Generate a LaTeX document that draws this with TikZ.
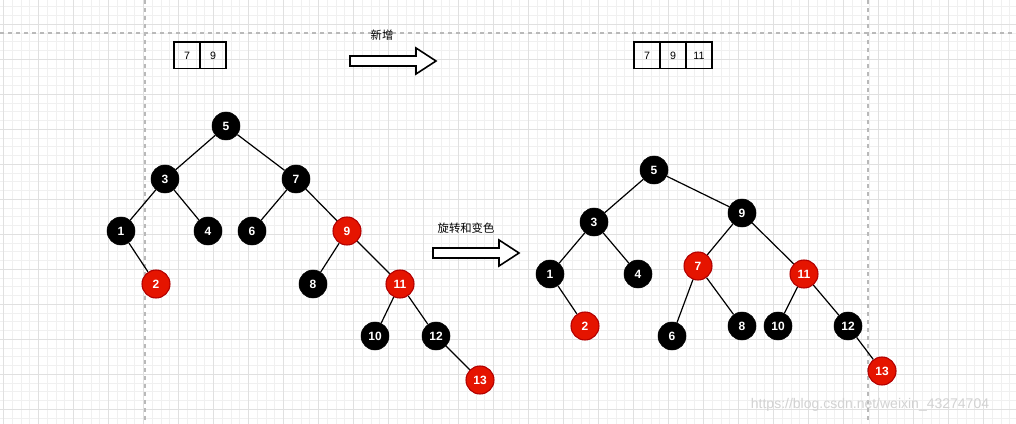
\documentclass[tikz,border=0pt]{standalone}
\usepackage{fontspec}
\setmainfont{Liberation Sans}
\newfontfamily\cjk{Noto Sans CJK SC}
\definecolor{rnode}{HTML}{E51400}
\definecolor{rbord}{HTML}{B20000}
\definecolor{gminor}{HTML}{F0F0F0}
\definecolor{gmajor}{HTML}{E0E0E0}
\begin{document}
\begin{tikzpicture}[x=0.75pt,y=-0.75pt,
  bn/.style={circle,fill=black,draw=black,minimum size=21pt,inner sep=0pt,text=white,font=\bfseries\fontsize{9}{10}\selectfont},
  rn/.style={circle,fill=rnode,draw=rbord,line width=0.8pt,minimum size=21pt,inner sep=0pt,text=white,font=\bfseries\fontsize{9}{10}\selectfont},
  edge/.style={line width=0.9pt},
  cell/.style={draw=black,line width=1pt,minimum width=19.5pt,minimum height=20pt,inner sep=0pt,font=\fontsize{8}{9}\selectfont},
  bigarrow/.style={draw=black,line width=1.2pt,fill=white,line join=miter},
  lbl/.style={font=\cjk\fontsize{8.5}{10}\selectfont}]
\useasboundingbox (0,0) rectangle (1016,424);
\fill[white] (0,0) rectangle (1016,424);
\foreach \x in {0,...,116} \draw[gminor,line width=0.4pt] ({3.3+\x*8.75},0) -- ({3.3+\x*8.75},424);
\foreach \y in {0,...,49} \draw[gminor,line width=0.4pt] (0,{-2+\y*8.75}) -- (1016,{-2+\y*8.75});
\foreach \x in {0,...,29} \draw[gmajor,line width=0.6pt] ({3.3+\x*35},0) -- ({3.3+\x*35},424);
\foreach \y in {0,...,12} \draw[gmajor,line width=0.6pt] (0,{24.3+\y*35-35}) -- (1016,{24.3+\y*35-35});
\draw[gray!55,dashed,line width=0.8pt] (145,0) -- (145,424);
\draw[gray!55,dashed,line width=0.8pt] (868,0) -- (868,424);
\draw[gray!55,dashed,line width=0.8pt] (0,33) -- (1016,33);

% boxes
\node[cell] (la) at (187,55.5) {7};
\node[cell] (lb) at (213,55.5) {9};
\node[cell] (ra) at (647,55.5) {7};
\node[cell] (rb) at (673,55.5) {9};
\node[cell] (rc) at (699,55.5) {11};

% arrows
\draw[bigarrow] (350,56) -- (416,56) -- (416,48) -- (436,61) -- (416,74) -- (416,66) -- (350,66) -- cycle;
\node[lbl] (t1) at (382,35) {新增};
\draw[bigarrow] (433,248) -- (499,248) -- (499,240) -- (519,253) -- (499,266) -- (499,258) -- (433,258) -- cycle;
\node[lbl] (t2) at (466,228) {旋转和变色};

% left tree
\node[bn] (a5) at (226,126) {5};
\node[bn] (a3) at (165,179) {3};
\node[bn] (a7) at (296,179) {7};
\node[bn] (a1) at (121,231) {1};
\node[bn] (a4) at (208,231) {4};
\node[bn] (a6) at (252,231) {6};
\node[rn] (a9) at (347,231) {9};
\node[rn] (a2) at (156,284) {2};
\node[bn] (a8) at (313,284) {8};
\node[rn] (a11) at (400,284) {11};
\node[bn] (a10) at (375,336) {10};
\node[bn] (a12) at (436,336) {12};
\node[rn] (a13) at (480,380) {13};
\foreach \p/\c in {a5/a3,a5/a7,a3/a1,a3/a4,a7/a6,a7/a9,a1/a2,a9/a8,a9/a11,a11/a10,a11/a12,a12/a13}
  \draw[edge] (\p) -- (\c);

% right tree
\node[bn] (b5) at (654,170) {5};
\node[bn] (b3) at (594,222) {3};
\node[bn] (b9) at (742,213) {9};
\node[bn] (b1) at (550,274) {1};
\node[bn] (b4) at (638,274) {4};
\node[rn] (b7) at (698,266) {7};
\node[rn] (b11) at (804,274) {11};
\node[rn] (b2) at (585,326) {2};
\node[bn] (b6) at (672,336) {6};
\node[bn] (b8) at (742,326) {8};
\node[bn] (b10) at (778,326) {10};
\node[bn] (b12) at (848,326) {12};
\node[rn] (b13) at (882,371) {13};
\foreach \p/\c in {b5/b3,b5/b9,b3/b1,b3/b4,b1/b2,b9/b7,b9/b11,b7/b6,b7/b8,b11/b10,b11/b12,b12/b13}
  \draw[edge] (\p) -- (\c);

\node[text=gray!35,font=\fontsize{10.5}{12}\selectfont] (wm) at (870,405) {https://blog.csdn.net/weixin\_43274704};
\end{tikzpicture}
\end{document}
